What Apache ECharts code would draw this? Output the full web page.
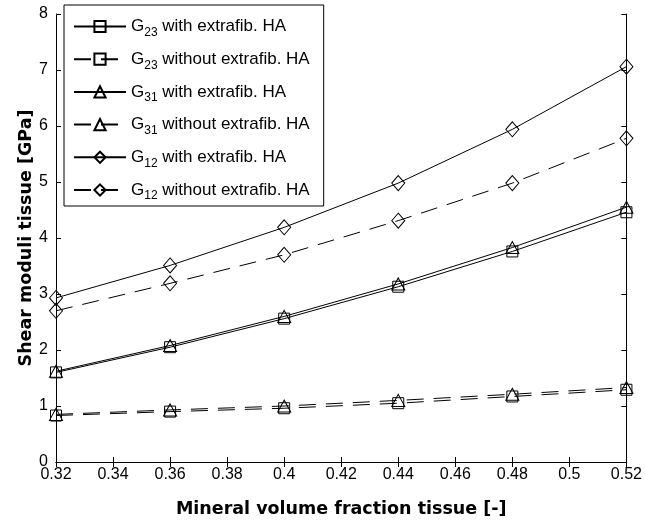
<!DOCTYPE html>
<html><head><meta charset="utf-8">
<script src="https://cdn.jsdelivr.net/npm/echarts@6/dist/echarts.min.js"></script>
<style>html,body{margin:0;padding:0;background:#fff}#c{width:645px;height:523px}</style>
</head><body><div id="c"></div>
<script>
const xValues = [0.32, 0.36, 0.40, 0.44, 0.48, 0.52];
const g23With = [1.60, 2.05, 2.56, 3.13, 3.76, 4.46];
const g23Without = [0.83, 0.90, 0.96, 1.05, 1.17, 1.29];
const g31With = [1.62, 2.08, 2.60, 3.18, 3.83, 4.55];
const g31Without = [0.85, 0.93, 1.00, 1.10, 1.21, 1.33];
const g12With = [2.93, 3.51, 4.19, 4.98, 5.94, 7.06];
const g12Without = [2.70, 3.19, 3.70, 4.31, 4.98, 5.78];
const seriesNames = ['G23 with extrafib. HA','G23 without extrafib. HA','G31 with extrafib. HA','G31 without extrafib. HA','G12 with extrafib. HA','G12 without extrafib. HA'];
const xTitle = 'Mineral volume fraction tissue [-]';
const yTitle = 'Shear moduli tissue [GPa]';

const FONT = 'Liberation Sans, Arial, sans-serif';
const TFONT = 'DejaVu Sans, sans-serif';
const seriesData = [g23With, g23Without, g31With, g31Without, g12With, g12Without];
const symbols = ['rect','rect','triangle','triangle','diamond','diamond'];
const sizes = [[11,11],[11,11],[13,12],[13,12],[13,15],[13,15]];

const series = seriesData.map((d, i) => ({
  name: seriesNames[i],
  type: 'line',
  data: d.map((v, j) => [xValues[j], v]),
  symbol: symbols[i],
  symbolSize: sizes[i],
  showAllSymbol: true,
  lineStyle: {color: '#000', width: 1, type: (i % 2 === 1) ? [17, 10] : 'solid'},
  itemStyle: {color: 'rgba(255,255,255,0)', borderColor: '#000', borderWidth: 1},
  emphasis: {disabled: true},
  animation: false,
  z: 2
}));

const chart = echarts.init(document.getElementById('c'), null, {renderer: 'canvas'});
const axisCommon = {
  axisLine: {lineStyle: {color: '#000', width: 1}},
  axisTick: {inside: true, length: 5, lineStyle: {color: '#000'}},
  splitLine: {show: false}
};
chart.setOption({
  animation: false,
  backgroundColor: '#fff',
  grid: {left: 56, right: 18, top: 14, bottom: 60},
  legend: {
    left: 64, top: 5, orient: 'vertical',
    itemWidth: 52, itemHeight: 14, itemGap: 12.2,
    padding: [13, 14, 4, 9],
    backgroundColor: '#fff',
    borderColor: '#000', borderWidth: 1,
    data: seriesNames,
    formatter: name => name.replace(/^G(\d+)(.*)$/, '{n|G}{s|$1}{n|$2}'),
    textStyle: {
      fontFamily: FONT, fontSize: 17, color: '#000',
      rich: {
        n: {fontFamily: FONT, fontSize: 17, color: '#000'},
        s: {fontFamily: FONT, fontSize: 12, color: '#000', padding: [12, 0, 0, 0]}
      }
    }
  },
  xAxis: [{
    type: 'value', min: 0.32, max: 0.52, interval: 0.02,
    name: xTitle, nameLocation: 'middle', nameGap: 38, nameMoveOverlap: false,
    nameTextStyle: {fontFamily: TFONT, fontSize: 17.5, fontWeight: 'bold', color: '#000'},
    axisLabel: {fontFamily: FONT, fontSize: 16, color: '#000', margin: 5,
      formatter: v => String(parseFloat(v.toFixed(2)))},
    ...axisCommon
  }, {
    type: 'value', position: 'top', min: 0.32, max: 0.52, interval: 0.02,
    axisLabel: {show: false}, ...axisCommon
  }],
  yAxis: [{
    type: 'value', min: 0, max: 8, interval: 1,
    name: yTitle, nameLocation: 'middle', nameGap: 21, nameMoveOverlap: false,
    nameTextStyle: {fontFamily: TFONT, fontSize: 17.5, fontWeight: 'bold', color: '#000'},
    axisLabel: {fontFamily: FONT, fontSize: 16, color: '#000', margin: 8},
    ...axisCommon
  }, {
    type: 'value', position: 'right', min: 0, max: 8, interval: 1,
    axisLabel: {show: false}, ...axisCommon
  }],
  series: series
});
</script></body></html>
